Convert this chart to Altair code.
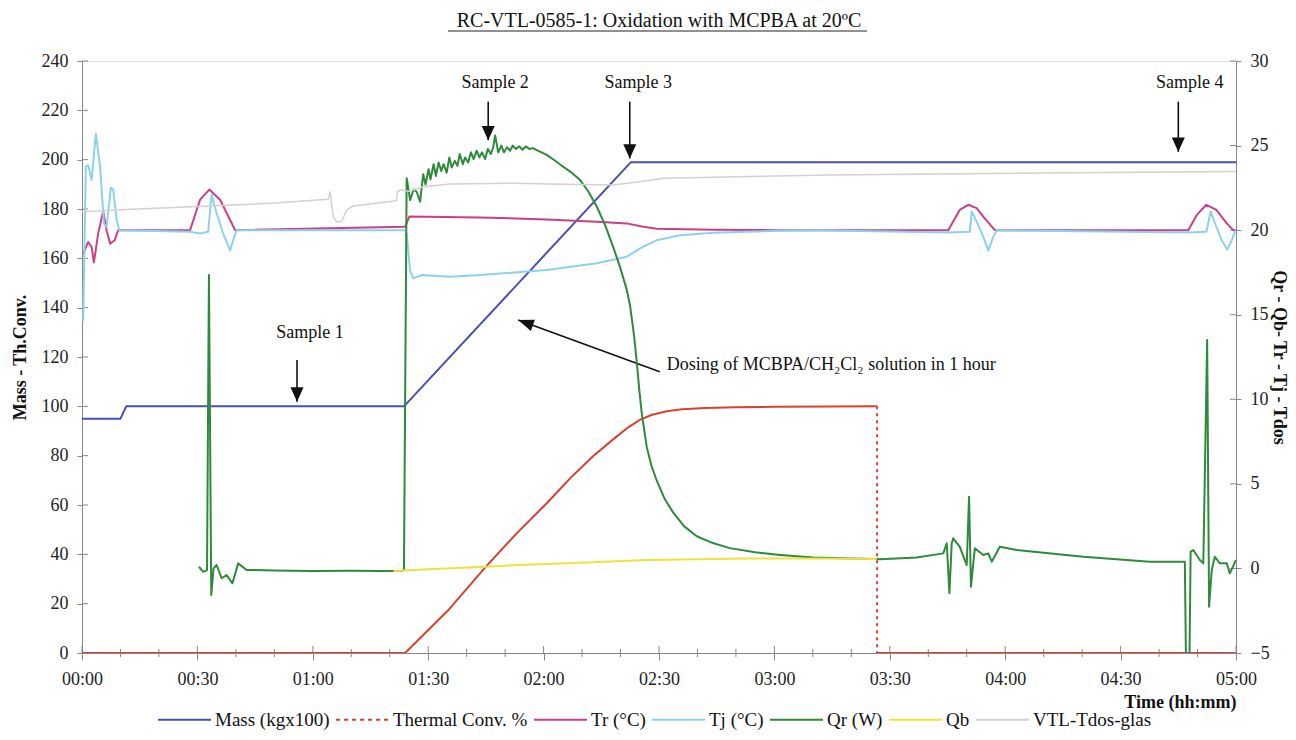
import altair as alt
import pandas as pd

FONT = "Times New Roman, Liberation Serif, Tinos, DejaVu Serif, serif"

SERIES = ["Mass (kgx100)", "Thermal Conv. %", "Tr (°C)", "Tj (°C)", "Qr (W)", "Qb", "VTL-Tdos-glas"]
COLORS = ["#4a4fb3", "#d8412f", "#cc3f86", "#8dd2ec", "#2f8a3c", "#f0e23a", "#d8cfcf"]
DASHES = [[1, 0], [4, 4], [1, 0], [1, 0], [1, 0], [1, 0], [1, 0]]

# ---- left axis series (Mass, Thermal conversion) ----
mass_t = [0, 10, 11.5, 83.7, 142.7, 300]
mass_v = [95, 95, 100, 100, 199, 199]

th_t = [0, 84, 95, 105, 113, 121, 127, 133, 138, 142, 145, 148, 152, 156, 162, 170, 180, 195, 206.7]
th_v = [0, 0, 17, 35, 48.5, 61, 71, 80, 86.5, 91.5, 94.5, 96.5, 98, 98.8, 99.3, 99.6, 99.8, 99.9, 100]
th2_t = [206.7, 300]
th2_v = [0, 0]
drop_t = [206.7, 206.7]
drop_v = [100, 0]

# ---- right axis series ----
tr_t = [0.3, 1.6, 2.5, 3.1, 4.2, 5.5, 6.4, 7.3, 8.5, 9.4, 28.1, 30.7, 33.1, 35.9, 38.5, 39.8,
        84, 85.1, 103.5, 120.8, 133.8, 141.6, 145.9, 149.4, 164.1, 180,
        225.2, 228.2, 230.4, 232.6, 234.3, 237.3, 287.6, 289.8, 292.3, 294.9, 297.6, 299.3, 300]
tr_v = [18.6, 19.3, 19.0, 18.1, 19.8, 21.1, 20.0, 19.2, 19.4, 20.0, 20.0, 21.8, 22.4, 21.8, 20.6, 20.0,
        20.2, 20.8, 20.75, 20.63, 20.5, 20.4, 20.2, 20.08, 20.03, 20.0,
        20.0, 21.2, 21.5, 21.3, 20.8, 20.0, 20.0, 20.9, 21.5, 21.2, 20.4, 20.0, 20.0]

tj_t = [0.3, 1.0, 1.6, 2.5, 3.6, 4.7, 5.7, 6.4, 7.5, 8.1, 9.0, 9.7, 28.1, 30.7, 32.8, 33.7, 35.0,
        36.7, 38.5, 39.3, 40.2, 84.0, 84.4, 85.3, 86.1, 88.3, 95.7, 103.5, 120.8, 133.8, 141.6,
        145.9, 149.4, 155.4, 164.1, 181.4, 190, 225.2, 230.8, 231.3, 232.6, 234.3, 235.6, 236.9,
        237.8, 287.6, 292.3, 293.4, 294.9, 296.3, 297.7, 298.9, 299.7, 300]
tj_v = [14.6, 23.75, 23.85, 22.96, 25.7, 23.75, 20.4, 20.2, 22.5, 22.4, 20.6, 20.0, 19.9, 19.8, 19.9,
        22.1, 21.0, 19.8, 18.8, 19.4, 20.0, 20.0, 19.8, 17.6, 17.15, 17.35, 17.25, 17.35, 17.64,
        18.04, 18.43, 19.02, 19.4, 19.7, 19.85, 19.96, 20.0, 19.86, 19.9, 21.1, 20.5, 19.6, 18.8,
        19.6, 20.0, 19.86, 19.9, 21.1, 20.2, 19.4, 18.85, 19.4, 19.9, 20.0]

qr_t = [30.4, 31.5, 32.5, 33.0, 33.6, 34.2, 35.0, 36.3, 37.6, 39.1, 40.6, 42.8, 50, 60, 70, 78,
        83.2, 83.7, 84.4, 85.3, 86.2, 87.0, 87.9, 88.7, 89.3, 90.1, 90.6, 91.4, 92.0, 92.7, 93.4,
        94.0, 94.8, 95.5, 96.1, 96.9, 97.6, 98.2, 99.0, 99.6, 100.4, 101.1, 101.8, 102.6, 103.3,
        104.0, 104.8, 105.5, 106.3, 106.9, 107.4, 108.2, 109.0, 109.7, 110.5, 111.3, 112.0,
        112.8, 113.7, 114.5, 115.4, 116.3, 117.2, 118.5, 120.8, 123.0, 125.1, 127.3, 129.5,
        131.6, 133.8, 136.0, 138.1, 139.9, 141.6, 142.5, 143.5, 144.3, 144.9, 145.5, 146.8,
        148.0, 149.4, 151.5, 153.7, 156.5, 159.8, 164.0, 168.4, 175.0, 181.5, 190.1, 200.0,
        206.6, 207.4, 217, 223.9, 224.8, 225.5, 226.1, 226.5, 228.2, 230.0, 230.6, 231.1, 232.1,
        234.3, 235.6, 236.5, 238.6, 243, 260.3, 277.6, 286.7, 287.0, 287.9, 288.2, 288.9, 290.6,
        291.5, 292.5, 293.0, 293.7, 294.5, 295.8, 297.6, 298.4, 300]
qr_v = [0.10, -0.2, -0.1, 17.35, -1.57, 0.0, 0.2, -0.58, -0.39, -0.88, 0.30, -0.09, -0.12, -0.15,
        -0.13, -0.15, -0.13, -0.10, 23.07, 21.78, 22.4, 22.27, 21.68, 23.3, 22.7, 23.6, 23.0, 23.9,
        23.2, 24.0, 23.5, 23.9, 23.4, 24.3, 23.7, 24.1, 23.8, 24.5, 23.9, 24.3, 24.0, 24.6, 24.2,
        24.7, 24.3, 24.6, 24.2, 24.8, 24.5, 24.9, 25.6, 24.6, 25.0, 24.6, 24.9, 24.7, 25.0, 24.8,
        24.95, 24.75, 24.95, 24.8, 24.85, 24.7, 24.45, 24.1, 23.75, 23.4, 22.96, 22.3, 21.4, 20.3,
        19.0, 17.8, 16.5, 15.5, 13.8, 12.0, 10.5, 9.2, 7.2, 6.1, 5.2, 4.1, 3.3, 2.5, 1.9, 1.5, 1.2,
        0.95, 0.8, 0.64, 0.58, 0.56, 0.54, 0.64, 0.89, 1.49, -1.47, 1.49, 1.78, 1.28, 0.20, 4.24,
        -1.08, 1.19, 0.79, 0.89, 0.40, 1.28, 1.09, 0.69, 0.40, 0.40, -5.5, -5.5, 0.99, 1.09, 0.50,
        0.30, 13.5, -2.26, -0.09, 0.69, 0.30, 0.30, -0.29, 0.50]

qb_t = [81, 90, 105.2, 115, 129.5, 146.8, 160, 172.8, 190, 206.6]
qb_v = [-0.15, -0.05, 0.10, 0.22, 0.34, 0.50, 0.55, 0.58, 0.58, 0.56]

vtl_t = [0, 10, 30, 50, 64, 64.5, 65.3, 66.2, 67.5, 68.8, 70.5, 81.8, 82.0, 82.7, 85, 88.7, 95.7,
         112.1, 125, 138.1, 145, 151.1, 170, 194.4, 250, 300]
vtl_v = [21.09, 21.2, 21.4, 21.6, 21.82, 22.27, 20.79, 20.5, 20.5, 21.19, 21.43, 21.74, 22.27,
         22.37, 22.3, 22.57, 22.73, 22.77, 22.72, 22.67, 22.86, 23.07, 23.15, 23.26, 23.38, 23.46]

# ---- annotations (time in minutes, y on left axis) ----
sample_labels = ["Sample 1", "Sample 2", "Sample 3", "Sample 4"]
sample_text_t = [59.3, 107.4, 144.6, 288.0]
sample_text_y = [129.7, 230.9, 230.9, 230.9]
arrow_t = [55.9, 105.6, 142.4, 285.0]
arrow_top = [118.8, 223.5, 223.5, 223.5]
arrow_tip = [101.9, 207.9, 200.5, 203.2]

dosing_label = ["Dosing of MCBPA/CH\u2082Cl\u2082 solution in 1 hour"]
dosing_text_t = [152.0]
dosing_text_y = [116.7]
dosing_line_t = [150.2, 113.4]
dosing_line_y = [114.0, 135.0]

TITLE = ["RC-VTL-0585-1: Oxidation with MCPBA at 20\u00baC"]


def frame(series, ts, vs, seg="a"):
    return pd.DataFrame({"t": ts, "v": vs, "series": series, "seg": seg})


X_SCALE = alt.Scale(domain=[0, 300], nice=False, zero=False)
L_SCALE = alt.Scale(domain=[0, 240], nice=False, zero=False)
R_SCALE = alt.Scale(domain=[-5, 30], nice=False, zero=False)
C_SCALE = alt.Scale(domain=SERIES, range=COLORS)
D_SCALE = alt.Scale(domain=SERIES, range=DASHES)

axis_common = dict(
    labelFont=FONT, labelFontSize=18, labelColor="#222",
    titleFont=FONT, titleFontSize=18, titleFontWeight="bold", titleColor="#111",
    domainColor="#888", tickColor="#888", grid=False,
)

x_axis = alt.Axis(
    values=list(range(0, 301, 30)),
    labelExpr="'0' + floor(datum.value / 60) + ':' + (datum.value % 60 < 10 ? '0' : '') + (datum.value % 60)",
    title="Time (hh:mm)", titleAnchor="end", tickSize=7, labelPadding=10, titlePadding=5,
    labelFlush=False, **axis_common,
)
l_axis = alt.Axis(values=list(range(0, 241, 20)), title="Mass - Th.Conv.", orient="left",
                  tickSize=5, labelPadding=9, titlePadding=12, **axis_common)
r_axis = alt.Axis(values=list(range(-5, 31, 5)), title="Qr - Qb- Tr - Tj - Tdos", orient="right",
                  tickSize=5, labelPadding=9, titlePadding=0, titleAngle=90, **axis_common)

legend = alt.Legend(
    title=None, orient="none", legendX=75, legendY=631, direction="horizontal",
    symbolType="stroke", symbolSize=2809, symbolStrokeWidth=2,
    labelFont=FONT, labelFontSize=19, labelColor="#111", columnPadding=2, labelOffset=3,
)


def xenc():
    return alt.X("t:Q", scale=X_SCALE, axis=x_axis)


def line_layer(df, scale, axis, width=2.0):
    return alt.Chart(df).mark_line(clip=True, strokeWidth=width, strokeJoin="round").encode(
        x=xenc(),
        y=alt.Y("v:Q", scale=scale, axis=axis),
        color=alt.Color("series:N", scale=C_SCALE, legend=legend),
        detail="seg:N",
    )


# legend-only layer: lies outside the x domain and is clipped away; it carries the dash style
key_df = pd.DataFrame({"t": [-20, -10] * len(SERIES), "v": [0, 0] * len(SERIES),
                       "series": [s for s in SERIES for _ in range(2)]})
key_layer = alt.Chart(key_df).mark_line(clip=True, strokeWidth=2).encode(
    x=xenc(), y=alt.Y("v:Q", scale=L_SCALE, axis=l_axis),
    color=alt.Color("series:N", scale=C_SCALE, legend=legend),
    strokeDash=alt.StrokeDash("series:N", scale=D_SCALE, legend=legend),
)

# left group
mass_df = frame(SERIES[0], mass_t, mass_v)
th_df = pd.concat([frame(SERIES[1], th_t, th_v, "a"), frame(SERIES[1], th2_t, th2_v, "b")])
drop_df = pd.DataFrame({"t": drop_t, "v": drop_v})

drop_layer = alt.Chart(drop_df).mark_line(clip=True, strokeWidth=2, strokeDash=[3, 4],
                                          color=COLORS[1]).encode(
    x=xenc(), y=alt.Y("v:Q", scale=L_SCALE, axis=l_axis))

ann_df = pd.DataFrame({"label": sample_labels, "tx": sample_text_t, "ty": sample_text_y,
                       "at": arrow_t, "a0": arrow_top, "a1": arrow_tip})
ann_text = alt.Chart(ann_df).mark_text(font=FONT, fontSize=18, color="#111", baseline="middle",
                                       align="center").encode(
    x=alt.X("tx:Q", scale=X_SCALE, axis=x_axis),
    y=alt.Y("ty:Q", scale=L_SCALE, axis=l_axis), text="label:N")
ann_rule = alt.Chart(ann_df).mark_rule(color="#111", strokeWidth=1.6).encode(
    x=alt.X("at:Q", scale=X_SCALE, axis=x_axis),
    y=alt.Y("a0:Q", scale=L_SCALE, axis=l_axis), y2="a1:Q")
ann_head = alt.Chart(ann_df).mark_point(shape="M0,0L-0.5,-1.1L0.5,-1.1Z", filled=True,
                                        color="#111", opacity=1, size=676, strokeWidth=0).encode(
    x=alt.X("at:Q", scale=X_SCALE, axis=x_axis),
    y=alt.Y("a1:Q", scale=L_SCALE, axis=l_axis))

dos_text_df = pd.DataFrame({"label": dosing_label, "tx": dosing_text_t, "ty": dosing_text_y})
dos_text = alt.Chart(dos_text_df).mark_text(font=FONT, fontSize=18, color="#111", baseline="middle",
                                            align="left").encode(
    x=alt.X("tx:Q", scale=X_SCALE, axis=x_axis),
    y=alt.Y("ty:Q", scale=L_SCALE, axis=l_axis), text="label:N")
dos_line_df = pd.DataFrame({"t": dosing_line_t, "v": dosing_line_y})
dos_line = alt.Chart(dos_line_df).mark_line(color="#111", strokeWidth=1.6).encode(
    x=xenc(), y=alt.Y("v:Q", scale=L_SCALE, axis=l_axis))
dos_head = alt.Chart(dos_line_df.iloc[[1]]).mark_point(
    shape="M0,0L-0.5,1.3L0.5,1.3Z", filled=True, color="#111", opacity=1, size=576,
    strokeWidth=0, angle=290).encode(
    x=xenc(), y=alt.Y("v:Q", scale=L_SCALE, axis=l_axis))

# inner tick marks (the reference ticks cross the axis lines)
xmaj_df = pd.DataFrame({"t": list(range(0, 301, 30))})
xmin_df = pd.DataFrame({"t": [m for m in range(10, 300, 10) if m % 30]})
x_major_in = alt.Chart(xmaj_df).mark_rule(color="#888").encode(
    x=xenc(), y=alt.value(592), y2=alt.value(585))
x_minor = alt.Chart(xmin_df).mark_rule(color="#888").encode(
    x=xenc(), y=alt.value(588), y2=alt.value(596))
lt_df = pd.DataFrame({"v": list(range(0, 241, 20))})
l_ticks_in = alt.Chart(lt_df).mark_rule(color="#888").encode(
    x=alt.value(0), x2=alt.value(6), y=alt.Y("v:Q", scale=L_SCALE, axis=l_axis))
rt_df = pd.DataFrame({"v": list(range(-5, 31, 5))})
r_ticks_in = alt.Chart(rt_df).mark_rule(color="#888").encode(
    x=alt.value(1148), x2=alt.value(1154), y=alt.Y("v:Q", scale=R_SCALE, axis=r_axis))

# chart title (underlined in the reference)
title_text = alt.Chart(pd.DataFrame({"label": TITLE})).mark_text(
    font=FONT, fontSize=20, color="#111", baseline="middle", align="center").encode(
    x=alt.value(577), y=alt.value(-40), text="label:N")
underline = alt.Chart(pd.DataFrame({"k": [0]})).mark_rule(color="#222", strokeWidth=1).encode(
    x=alt.value(366), x2=alt.value(785), y=alt.value(-30))

left = alt.layer(
    x_major_in, x_minor, l_ticks_in, key_layer,
    line_layer(mass_df, L_SCALE, l_axis),
    line_layer(th_df, L_SCALE, l_axis),
    drop_layer,
    ann_rule, ann_head, ann_text, dos_line, dos_head, dos_text, title_text, underline,
)

right = alt.layer(
    r_ticks_in,
    line_layer(frame(SERIES[2], tr_t, tr_v), R_SCALE, r_axis),
    line_layer(frame(SERIES[3], tj_t, tj_v), R_SCALE, r_axis),
    line_layer(frame(SERIES[4], qr_t, qr_v), R_SCALE, r_axis),
    line_layer(frame(SERIES[5], qb_t, qb_v), R_SCALE, r_axis),
    line_layer(frame(SERIES[6], vtl_t, vtl_v), R_SCALE, r_axis, width=1.5),
)

chart = alt.layer(left, right).resolve_scale(y="independent").properties(
    width=1154, height=592,
    autosize=alt.AutoSizeParams(type="none"),
    padding={"left": 74, "top": 53, "right": 52, "bottom": 79},
).configure_view(stroke="#999", strokeWidth=1).configure(background="white")

chart.save("out.html", embed_options={"renderer": "svg", "actions": False})
